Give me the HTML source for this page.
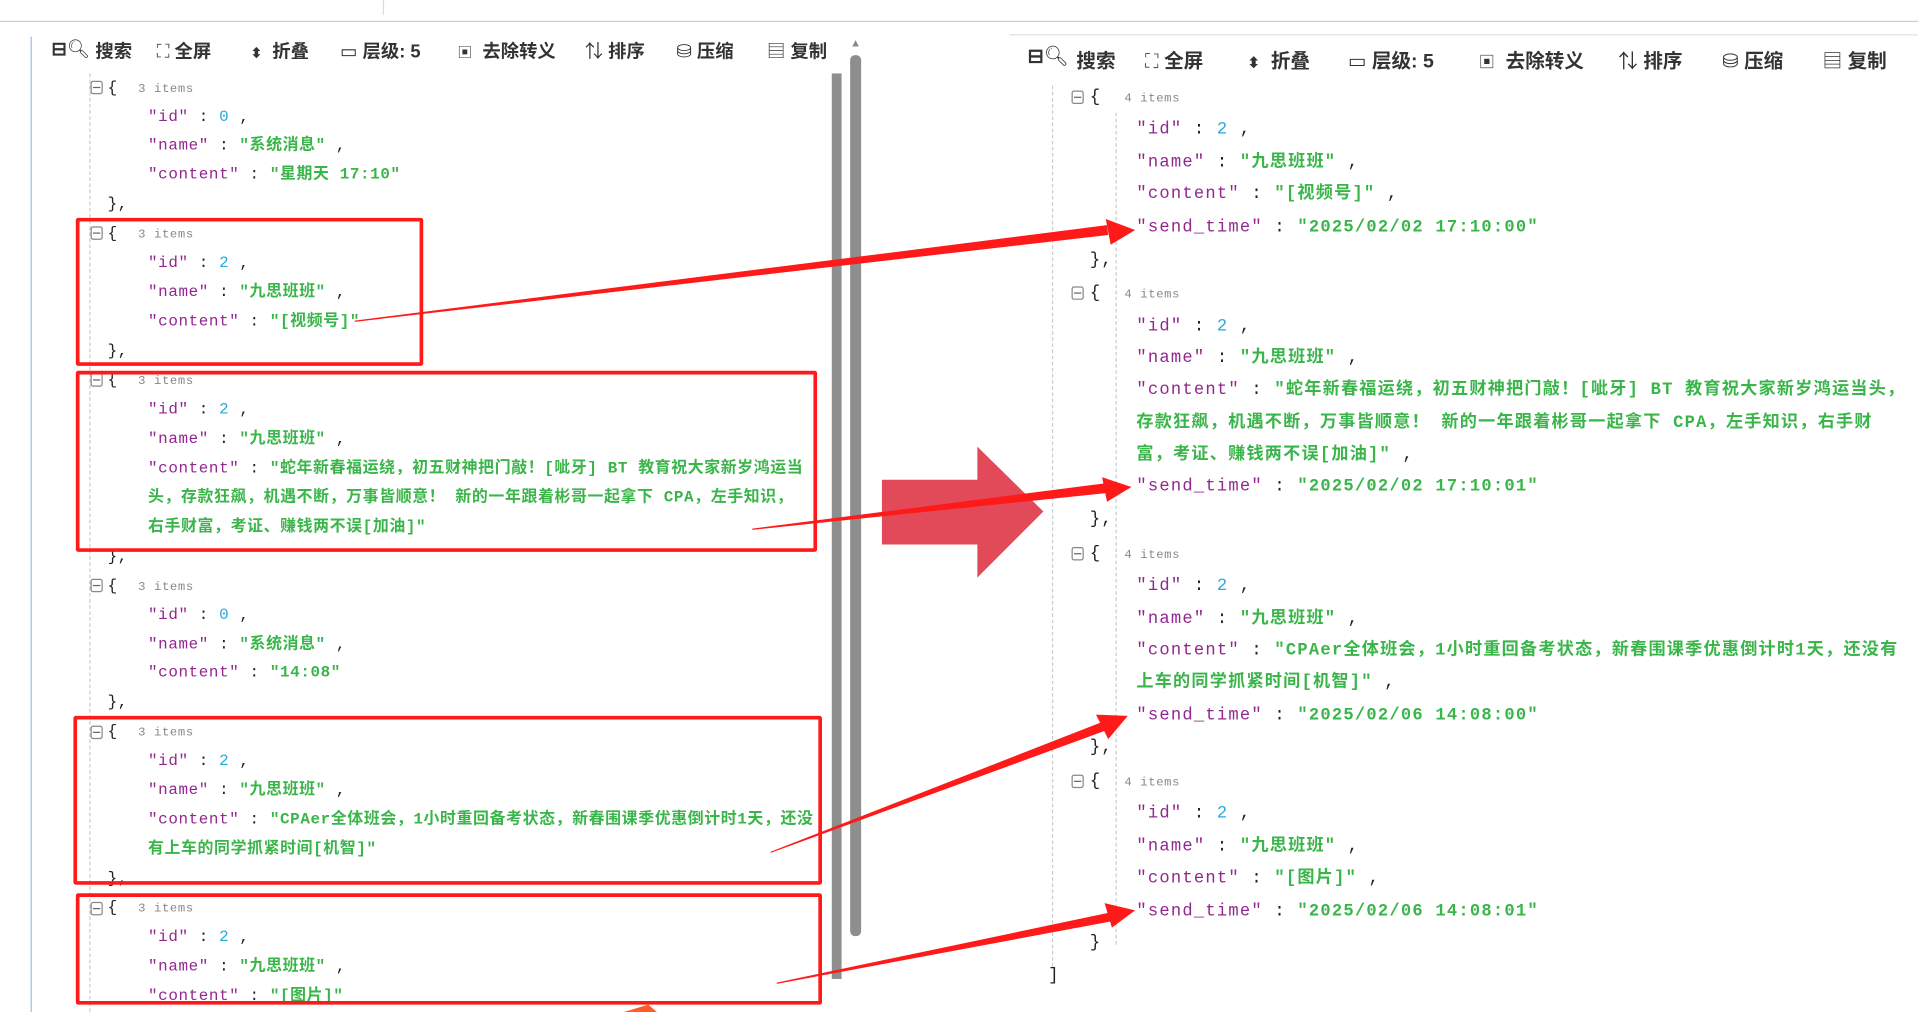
<!DOCTYPE html>
<html><head><meta charset="utf-8"><style>
*{margin:0;padding:0;box-sizing:border-box}
html,body{width:1918px;height:1012px;overflow:hidden;background:#fff}
#c{position:absolute;left:0;top:0;width:1568px;height:827px;transform-origin:0 0;transform:scale(1.22321,1.2237)}
.a{position:absolute;white-space:nowrap}
.L{font:13px "Liberation Mono","Noto Sans CJK SC",monospace;letter-spacing:0.5px;color:#222;line-height:20px}
.R{font:14px "Liberation Mono","Noto Sans CJK SC",monospace;letter-spacing:1px;color:#222;line-height:20px}
.k{color:#92278f}.s{color:#3ab54a;font-weight:bold}.n{color:#25aae1}
.it{font-size:10px;color:#888;letter-spacing:0.5px}
.tb{font:bold 15px "Liberation Sans","Noto Sans CJK SC",sans-serif;color:#333}
.tb2{font:bold 16px "Liberation Sans","Noto Sans CJK SC",sans-serif;color:#333}
.fold{position:absolute;width:10px;height:11px;border:1px solid #888;border-radius:2px}
.fold:after{content:"";position:absolute;left:1px;right:1px;top:4px;height:1px;background:#666}
.box{position:absolute;border:3px solid #ff1a1a;border-radius:2px}
.dv{position:absolute;border-left:1px dashed #ccc}
</style></head><body><div id="c">
<div class="a" style="left:0;top:17px;width:1568px;height:1px;background:#ccc"></div>
<div class="a" style="left:313px;top:0;width:1px;height:12px;background:#ddd"></div>
<div class="a" style="left:25px;top:30px;width:1px;height:797px;background:#9cc0e8"></div>
<div class="a" style="left:825px;top:28px;width:743px;height:1px;background:#e0e0e0"></div>
<div class="a" style="left:680px;top:60px;width:8px;height:740px;background:#8e8e8e"></div>
<div class="a" style="left:695px;top:45px;width:9px;height:720px;background:#8e8e8e;border-radius:4px"></div>
<div class="a" style="left:695px;top:30px;font-size:9px;color:#888">▲</div>
<div class="dv" style="left:73px;top:60px;height:767px"></div>
<div class="dv" style="left:860px;top:70px;height:720px"></div>
<div class="dv" style="left:912px;top:92px;height:680px"></div>

<div class="a tb" style="left:42px;top:31px">⊟<span style="font-weight:normal">🔍︎</span></div>
<div class="a tb" style="left:78px;top:31px">搜索</div>
<div class="a tb" style="left:128px;top:31px"><span style="font-weight:normal;color:#555">⛶</span> 全屏</div>
<div class="a tb" style="left:205px;top:31px"><span style="font-size:11px">⬍</span>&nbsp; 折叠</div>
<div class="a tb" style="left:278px;top:31px"><span style="font-weight:normal">▭</span> 层级: 5</div>
<div class="a tb" style="left:374px;top:31px"><span style="font-weight:normal;font-size:12px">▣</span>&nbsp; 去除转义</div>
<div class="a tb" style="left:478px;top:31px"><span style="font-weight:normal">⇅</span> 排序</div>
<div class="a tb" style="left:553px;top:31px"><span style="font-weight:normal">⛁</span> 压缩</div>
<div class="a tb" style="left:627px;top:31px"><span style="font-weight:normal">▤</span> 复制</div>

<div class="a tb2" style="left:840px;top:36px">⊟<span style="font-weight:normal">🔍︎</span></div>
<div class="a tb2" style="left:880px;top:36px">搜索</div>
<div class="a tb2" style="left:936px;top:36px"><span style="font-weight:normal;color:#555">⛶</span> 全屏</div>
<div class="a tb2" style="left:1020px;top:36px"><span style="font-size:12px">⬍</span>&nbsp; 折叠</div>
<div class="a tb2" style="left:1102px;top:36px"><span style="font-weight:normal">▭</span> 层级: 5</div>
<div class="a tb2" style="left:1209px;top:36px"><span style="font-weight:normal;font-size:13px">▣</span>&nbsp; 去除转义</div>
<div class="a tb2" style="left:1323px;top:36px"><span style="font-weight:normal">⇅</span> 排序</div>
<div class="a tb2" style="left:1408px;top:36px"><span style="font-weight:normal">⛁</span> 压缩</div>
<div class="a tb2" style="left:1490px;top:36px"><span style="font-weight:normal">▤</span> 复制</div>

<div class="fold" style="left:74px;top:66px"></div><div class="a L" style="left:88px;top:62px">{ &nbsp;<span class="it">3 items</span></div>
<div class="a L" style="left:121px;top:86px"><span class="k">"id"</span> : <span class="n">0</span> ,</div>
<div class="a L" style="left:121px;top:109px"><span class="k">"name"</span> : <span class="s">"系统消息"</span> ,</div>
<div class="a L" style="left:121px;top:133px"><span class="k">"content"</span> : <span class="s">"星期天 17:10"</span></div>
<div class="a L" style="left:88px;top:157px">},</div>

<div class="fold" style="left:74px;top:185px"></div><div class="a L" style="left:88px;top:181px">{ &nbsp;<span class="it">3 items</span></div>
<div class="a L" style="left:121px;top:205px"><span class="k">"id"</span> : <span class="n">2</span> ,</div>
<div class="a L" style="left:121px;top:229px"><span class="k">"name"</span> : <span class="s">"九思班班"</span> ,</div>
<div class="a L" style="left:121px;top:253px"><span class="k">"content"</span> : <span class="s">"[视频号]"</span></div>
<div class="a L" style="left:88px;top:277px">},</div>

<div class="fold" style="left:74px;top:305px"></div><div class="a L" style="left:88px;top:301px">{ &nbsp;<span class="it">3 items</span></div>
<div class="a L" style="left:121px;top:325px"><span class="k">"id"</span> : <span class="n">2</span> ,</div>
<div class="a L" style="left:121px;top:349px"><span class="k">"name"</span> : <span class="s">"九思班班"</span> ,</div>
<div class="a L" style="left:121px;top:373px"><span class="k">"content"</span> : <span class="s">"蛇年新春福运绕，初五财神把门敲！[呲牙] BT 教育祝大家新岁鸿运当</span></div>
<div class="a L s" style="left:121px;top:397px">头，存款狂飙，机遇不断，万事皆顺意！ 新的一年跟着彬哥一起拿下 CPA，左手知识，</div>
<div class="a L s" style="left:121px;top:421px">右手财富，考证、赚钱两不误[加油]"</div>
<div class="a L" style="left:88px;top:445px">},</div>

<div class="fold" style="left:74px;top:473px"></div><div class="a L" style="left:88px;top:469px">{ &nbsp;<span class="it">3 items</span></div>
<div class="a L" style="left:121px;top:493px"><span class="k">"id"</span> : <span class="n">0</span> ,</div>
<div class="a L" style="left:121px;top:517px"><span class="k">"name"</span> : <span class="s">"系统消息"</span> ,</div>
<div class="a L" style="left:121px;top:540px"><span class="k">"content"</span> : <span class="s">"14:08"</span></div>
<div class="a L" style="left:88px;top:564px">},</div>

<div class="fold" style="left:74px;top:593px"></div><div class="a L" style="left:88px;top:588px">{ &nbsp;<span class="it">3 items</span></div>
<div class="a L" style="left:121px;top:612px"><span class="k">"id"</span> : <span class="n">2</span> ,</div>
<div class="a L" style="left:121px;top:636px"><span class="k">"name"</span> : <span class="s">"九思班班"</span> ,</div>
<div class="a L" style="left:121px;top:660px"><span class="k">"content"</span> : <span class="s">"CPAer全体班会，1小时重回备考状态，新春围课季优惠倒计时1天，还没</span></div>
<div class="a L s" style="left:121px;top:684px">有上车的同学抓紧时间[机智]"</div>
<div class="a L" style="left:88px;top:708px">},</div>

<div class="fold" style="left:74px;top:737px"></div><div class="a L" style="left:88px;top:732px">{ &nbsp;<span class="it">3 items</span></div>
<div class="a L" style="left:121px;top:756px"><span class="k">"id"</span> : <span class="n">2</span> ,</div>
<div class="a L" style="left:121px;top:780px"><span class="k">"name"</span> : <span class="s">"九思班班"</span> ,</div>
<div class="a L" style="left:121px;top:804px"><span class="k">"content"</span> : <span class="s">"[图片]"</span></div>

<div class="fold" style="left:876px;top:74px"></div><div class="a R" style="left:891px;top:70px">{ &nbsp;<span class="it">4 items</span></div>
<div class="a R" style="left:929px;top:96px"><span class="k">"id"</span> : <span class="n">2</span> ,</div>
<div class="a R" style="left:929px;top:123px"><span class="k">"name"</span> : <span class="s">"九思班班"</span> ,</div>
<div class="a R" style="left:929px;top:149px"><span class="k">"content"</span> : <span class="s">"[视频号]"</span> ,</div>
<div class="a R" style="left:929px;top:176px"><span class="k">"send_time"</span> : <span class="s">"2025/02/02 17:10:00"</span></div>
<div class="a R" style="left:891px;top:203px">},</div>

<div class="fold" style="left:876px;top:234px"></div><div class="a R" style="left:891px;top:230px">{ &nbsp;<span class="it">4 items</span></div>
<div class="a R" style="left:929px;top:257px"><span class="k">"id"</span> : <span class="n">2</span> ,</div>
<div class="a R" style="left:929px;top:283px"><span class="k">"name"</span> : <span class="s">"九思班班"</span> ,</div>
<div class="a R" style="left:929px;top:309px"><span class="k">"content"</span> : <span class="s">"蛇年新春福运绕，初五财神把门敲！[呲牙] BT 教育祝大家新岁鸿运当头，</span></div>
<div class="a R s" style="left:929px;top:336px">存款狂飙，机遇不断，万事皆顺意！ 新的一年跟着彬哥一起拿下 CPA，左手知识，右手财</div>
<div class="a R" style="left:929px;top:362px"><span class="s">富，考证、赚钱两不误[加油]"</span> ,</div>
<div class="a R" style="left:929px;top:388px"><span class="k">"send_time"</span> : <span class="s">"2025/02/02 17:10:01"</span></div>
<div class="a R" style="left:891px;top:415px">},</div>

<div class="fold" style="left:876px;top:447px"></div><div class="a R" style="left:891px;top:443px">{ &nbsp;<span class="it">4 items</span></div>
<div class="a R" style="left:929px;top:469px"><span class="k">"id"</span> : <span class="n">2</span> ,</div>
<div class="a R" style="left:929px;top:496px"><span class="k">"name"</span> : <span class="s">"九思班班"</span> ,</div>
<div class="a R" style="left:929px;top:522px"><span class="k">"content"</span> : <span class="s">"CPAer全体班会，1小时重回备考状态，新春围课季优惠倒计时1天，还没有</span></div>
<div class="a R" style="left:929px;top:548px"><span class="s">上车的同学抓紧时间[机智]"</span> ,</div>
<div class="a R" style="left:929px;top:575px"><span class="k">"send_time"</span> : <span class="s">"2025/02/06 14:08:00"</span></div>
<div class="a R" style="left:891px;top:601px">},</div>

<div class="fold" style="left:876px;top:633px"></div><div class="a R" style="left:891px;top:629px">{ &nbsp;<span class="it">4 items</span></div>
<div class="a R" style="left:929px;top:655px"><span class="k">"id"</span> : <span class="n">2</span> ,</div>
<div class="a R" style="left:929px;top:682px"><span class="k">"name"</span> : <span class="s">"九思班班"</span> ,</div>
<div class="a R" style="left:929px;top:708px"><span class="k">"content"</span> : <span class="s">"[图片]"</span> ,</div>
<div class="a R" style="left:929px;top:735px"><span class="k">"send_time"</span> : <span class="s">"2025/02/06 14:08:01"</span></div>
<div class="a R" style="left:891px;top:761px">}</div>
<div class="a R" style="left:857px;top:788px">]</div>

<div class="box" style="left:62px;top:178px;width:284px;height:121px"></div>
<div class="box" style="left:62px;top:303px;width:606px;height:148px"></div>
<div class="box" style="left:60px;top:585px;width:612px;height:138px"></div>
<div class="box" style="left:62px;top:730px;width:610px;height:91px"></div>

<svg class="a" style="left:0;top:0" width="1568" height="827">
<polygon points="721,392 799,392 799,365 853,418 799,472 799,445 721,445" fill="#e24a5a"/>
<g fill="#ff1a1a">
<polygon points="290,262 905,184 906,192 290,263"/>
<polygon points="928,188 904,179 908,200"/>
<polygon points="615,432 903,395 904,403 615,433"/>
<polygon points="925,398 901,390 905,410"/>
<polygon points="630,696 901,590 904,597 630,697"/>
<polygon points="922,585 896,584 906,604"/>
<polygon points="635,803 906,746 908,753 635,804"/>
<polygon points="928,744 903,738 909,758"/>
<polygon points="510,827 530,821 537,827" fill="#ff5a2a"/>
</g>
</svg>
</div></body></html>
